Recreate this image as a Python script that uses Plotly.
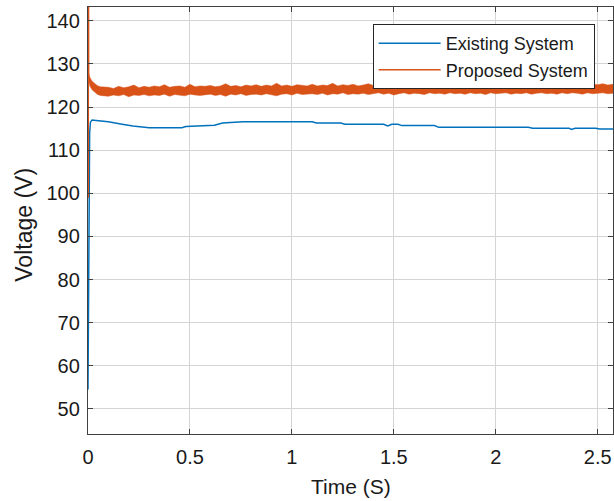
import plotly.graph_objects as go

# ---------------- data ----------------
existing_t = [0, 0.004, 0.008, 0.012, 0.02, 0.04, 0.1, 0.16, 0.22, 0.3, 0.46, 0.48, 0.55, 0.62,
              0.66, 0.76, 1.1, 1.12, 1.24, 1.26, 1.45, 1.47, 1.49, 1.52, 1.54, 1.7, 1.72,
              2.16, 2.18, 2.36, 2.37, 2.39, 2.49, 2.51, 2.575]
existing_v = [54.5, 100, 114, 116.5, 117.0, 116.9, 116.6, 116.1, 115.6, 115.2, 115.2, 115.5, 115.7, 115.8,
              116.3, 116.6, 116.6, 116.3, 116.3, 116.0, 116.0, 115.6, 116.0, 116.0, 115.7, 115.7, 115.3,
              115.3, 115.1, 115.1, 114.8, 115.1, 115.1, 114.9, 114.9]

# initial spike of the proposed system (goes off the top of the axes)
spike_t = [0, 0.0008, 0.002]
spike_v = [99, 160, 127]

# envelope of the noisy proposed-system voltage
trans_t = [0.002, 0.005, 0.01, 0.02, 0.03, 0.045, 0.06, 0.08]
trans_up = [128.0, 127.4, 126.8, 126.0, 125.5, 125.0, 124.7, 124.6]
trans_lo = [126.2, 125.4, 124.8, 124.0, 123.5, 123.0, 122.7, 122.6]

band_t = [round(0.1 + 0.025 * i, 3) for i in range(100)]
band_up = [124.6, 124.3, 124.8, 124.5, 124.7, 125.1, 124.5, 124.8, 124.6, 124.9,
           124.7, 125.2, 124.6, 124.8, 124.9, 124.6, 125.3, 124.7, 124.9, 124.8,
           125.0, 124.7, 124.9, 125.4, 124.8, 125.0, 124.7, 125.1, 124.9, 125.2,
           124.8, 125.1, 124.9, 125.5, 124.9, 125.1, 124.8, 125.2, 125.0, 124.9,
           125.3, 124.9, 125.1, 125.0, 125.5, 124.9, 125.2, 125.0, 125.3, 124.9,
           125.1, 125.4, 125.0, 125.2, 124.9, 125.3, 125.1, 125.6, 125.0, 125.2,
           125.0, 125.3, 125.1, 125.2, 125.5, 125.0, 125.2, 125.1, 125.4, 125.0,
           125.2, 125.1, 125.5, 125.0, 125.3, 125.2, 125.1, 125.4, 125.1, 125.3,
           125.1, 125.4, 125.2, 125.1, 125.6, 125.2, 125.1, 125.3, 125.2, 125.4,
           125.1, 125.3, 125.2, 125.5, 125.1, 125.3, 125.2, 125.4, 125.1, 125.3]
band_lo = [122.5, 122.8, 122.6, 122.9, 122.4, 122.8, 122.7, 122.9, 122.6, 122.8,
           122.7, 123.0, 122.5, 122.9, 122.8, 122.6, 123.0, 122.8, 122.7, 122.9,
           123.0, 122.7, 122.9, 122.5, 123.0, 122.8, 123.1, 122.7, 122.9, 123.0,
           122.8, 123.1, 122.9, 122.6, 123.0, 123.1, 122.8, 123.2, 122.9, 123.0,
           123.1, 122.9, 123.2, 122.8, 123.1, 123.0, 123.3, 122.9, 123.1, 123.0,
           123.2, 122.9, 123.1, 123.3, 123.0, 123.2, 122.8, 123.1, 123.3, 123.0,
           123.2, 123.1, 122.9, 123.3, 123.1, 123.2, 123.0, 123.3, 123.1, 123.2,
           123.0, 123.3, 123.1, 123.2, 122.9, 123.3, 123.1, 123.2, 123.3, 123.0,
           123.2, 123.1, 123.3, 123.0, 123.2, 123.3, 123.1, 123.2, 123.0, 123.3,
           123.1, 123.3, 123.2, 123.0, 123.3, 123.1, 123.2, 123.3, 123.1, 123.2]

x_ticks = [0, 0.5, 1, 1.5, 2, 2.5]
x_tick_labels = ["0", "0.5", "1", "1.5", "2", "2.5"]
y_ticks = [50, 60, 70, 80, 90, 100, 110, 120, 130, 140]

BLUE = "#0072BD"
ORANGE = "#D95319"
FONT = "Liberation Sans, Arial, sans-serif"
TXT = "#1a1a1a"

# ---------------- figure ----------------
fig = go.Figure()

fig.add_trace(go.Scatter(x=existing_t, y=existing_v, mode="lines", name="Existing System",
                         line=dict(color=BLUE, width=1.5)))

up_t = trans_t + band_t
up_v = trans_up + band_up
lo_t = trans_t + band_t
lo_v = trans_lo + band_lo
fig.add_trace(go.Scatter(x=up_t + lo_t[::-1], y=up_v + lo_v[::-1], mode="lines",
                         fill="toself", fillcolor=ORANGE, line=dict(color=ORANGE, width=0.5),
                         showlegend=False, hoverinfo="skip"))
fig.add_trace(go.Scatter(x=spike_t, y=spike_v, mode="lines", showlegend=False,
                         line=dict(color=ORANGE, width=2)))
fig.add_trace(go.Scatter(x=[None], y=[None], mode="lines", name="Proposed System",
                         line=dict(color=ORANGE, width=1.5)))

axis_common = dict(
    showline=True, linecolor="#404040", linewidth=1.3, mirror="ticks",
    ticks="inside", ticklen=5, tickcolor="#404040", tickwidth=1,
    showgrid=True, gridcolor="#d4d4d4", gridwidth=1,
    zeroline=False, automargin=False,
    tickfont=dict(family=FONT, size=20, color=TXT),
)

fig.update_xaxes(range=[0, 2.575], tickvals=x_ticks, ticktext=x_tick_labels,
                 ticklabelstandoff=5, **axis_common)
fig.update_yaxes(range=[44.2, 143.2], tickvals=y_ticks, ticklabelstandoff=3, **axis_common)

fig.add_annotation(text="Time (S)", xref="paper", yref="paper", x=0.5, y=-0.124,
                   xanchor="center", yanchor="middle", showarrow=False,
                   font=dict(family=FONT, size=21, color=TXT))
fig.add_annotation(text="Voltage (V)", xref="paper", yref="paper", x=-0.122, y=0.49,
                   xanchor="center", yanchor="middle", textangle=-90, showarrow=False,
                   font=dict(family=FONT, size=23, color=TXT))

fig.update_layout(
    width=614, height=501,
    margin=dict(l=88, r=1, t=7, b=67),
    paper_bgcolor="white", plot_bgcolor="white",
    font=dict(family=FONT, size=16, color=TXT),
    legend=dict(x=0.965, y=0.96, xanchor="right", yanchor="top",
                bgcolor="white", bordercolor="#262626", borderwidth=1,
                font=dict(family=FONT, size=18, color=TXT),
                itemwidth=62, tracegroupgap=0),
    showlegend=True,
)

fig.write_html("out.html",
               config={"displayModeBar": False},
               post_script="document.body.style.margin='0';document.body.style.overflow='hidden';")
